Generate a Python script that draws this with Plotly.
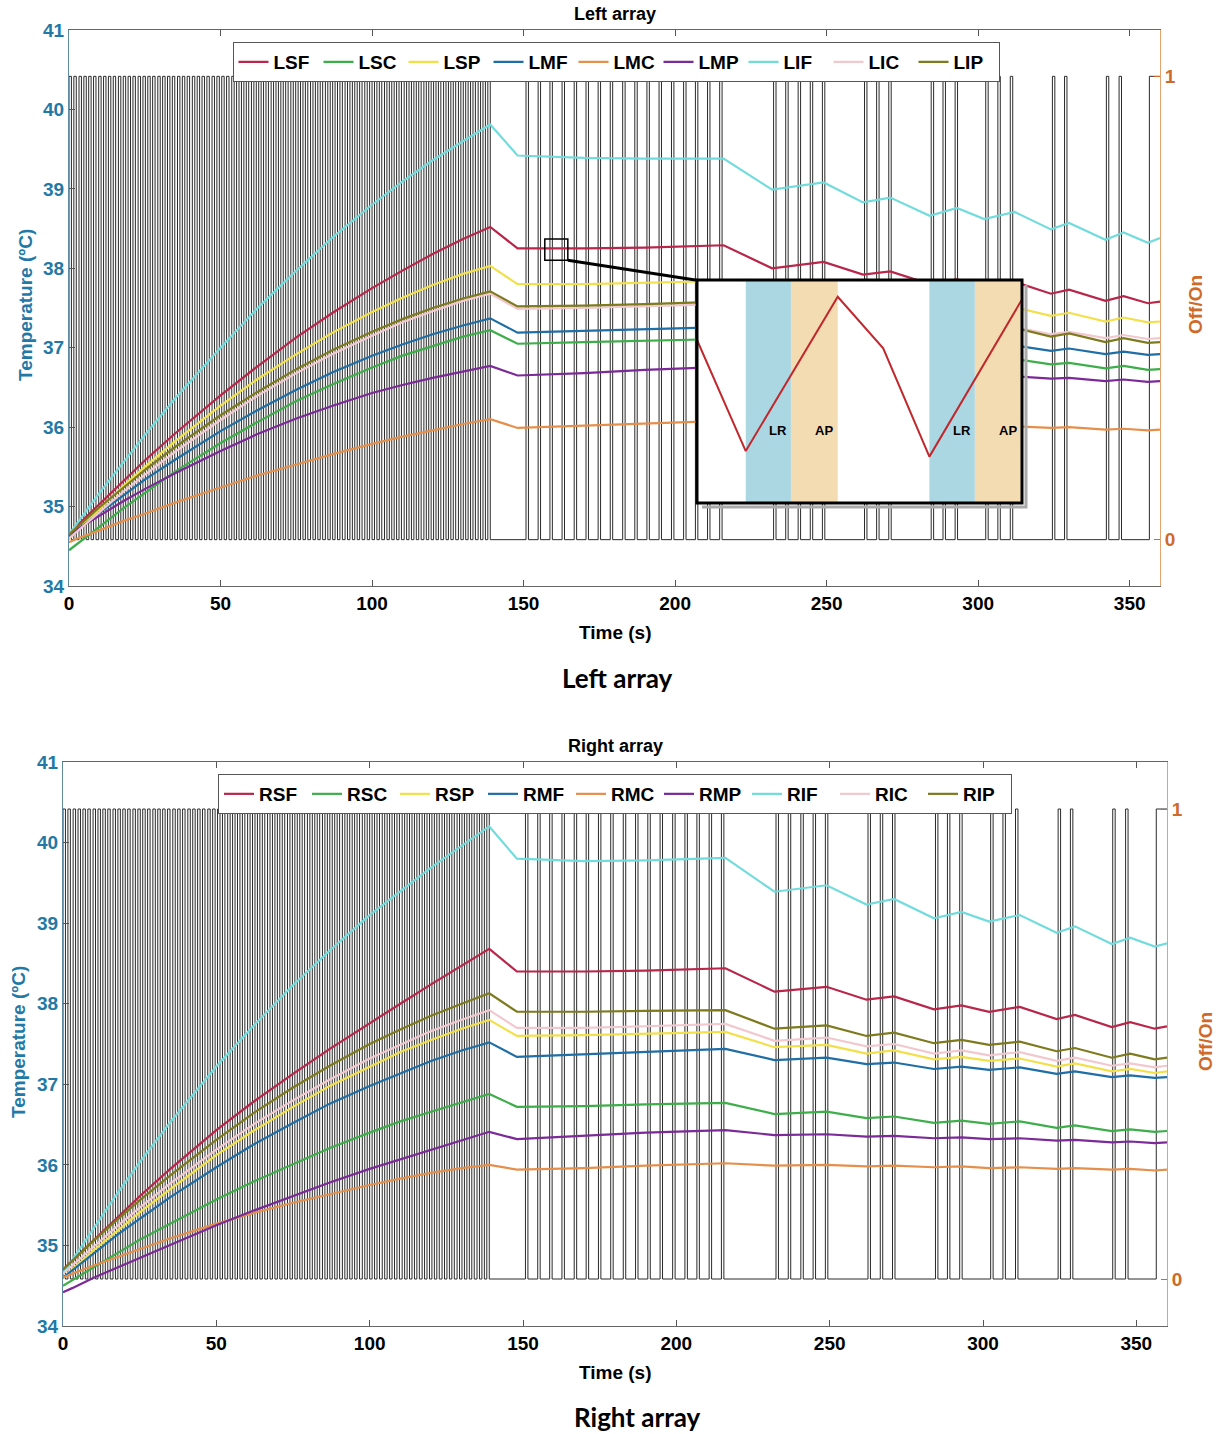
import plotly.graph_objects as go

# ---------------- data ----------------
TIME = [0, 3, 10, 18, 25, 35, 50, 62, 75, 87, 100, 110, 120, 130, 139,
        148, 170, 190, 216, 232, 249, 262, 271, 284, 293, 302, 312, 324, 330, 342, 348, 356, 360]

LSF = [34.65, 34.77, 35.03, 35.33, 35.58, 35.92, 36.40, 36.76, 37.13, 37.44, 37.75, 37.97, 38.18, 38.37, 38.52,
       38.25, 38.25, 38.26, 38.29, 38.00, 38.08, 37.92, 37.96, 37.80, 37.86, 37.77, 37.83, 37.68, 37.73, 37.59, 37.65, 37.56, 37.58]
LSC = [34.45, 34.54, 34.75, 34.98, 35.17, 35.44, 35.80, 36.06, 36.33, 36.54, 36.75, 36.90, 37.02, 37.14, 37.22,
       37.05, 37.07, 37.09, 37.11, 36.97, 37.00, 36.92, 36.93, 36.85, 36.88, 36.83, 36.86, 36.79, 36.81, 36.74, 36.77, 36.72, 36.73]
LSP = [34.60, 34.71, 34.97, 35.26, 35.50, 35.82, 36.27, 36.60, 36.92, 37.19, 37.45, 37.63, 37.79, 37.93, 38.03,
       37.80, 37.80, 37.82, 37.84, 37.65, 37.70, 37.58, 37.60, 37.49, 37.53, 37.47, 37.51, 37.40, 37.44, 37.33, 37.38, 37.32, 37.33]
LMF = [34.62, 34.71, 34.92, 35.14, 35.34, 35.59, 35.95, 36.21, 36.47, 36.69, 36.90, 37.04, 37.17, 37.28, 37.37,
       37.19, 37.21, 37.23, 37.26, 37.13, 37.16, 37.08, 37.10, 37.02, 37.05, 37.01, 37.03, 36.96, 36.99, 36.92, 36.95, 36.91, 36.92]
LMC = [34.55, 34.60, 34.70, 34.82, 34.91, 35.05, 35.24, 35.39, 35.53, 35.66, 35.79, 35.88, 35.96, 36.04, 36.10,
       35.99, 36.02, 36.05, 36.08, 36.04, 36.05, 36.02, 36.03, 36.01, 36.02, 36.00, 36.01, 35.99, 36.00, 35.97, 35.98, 35.96, 35.97]
LMP = [34.65, 34.72, 34.89, 35.07, 35.22, 35.42, 35.70, 35.91, 36.11, 36.27, 36.43, 36.53, 36.62, 36.70, 36.77,
       36.65, 36.68, 36.72, 36.76, 36.69, 36.71, 36.67, 36.68, 36.64, 36.65, 36.63, 36.64, 36.61, 36.62, 36.58, 36.60, 36.57, 36.58]
LIF = [34.65, 34.81, 35.17, 35.56, 35.90, 36.36, 37.00, 37.49, 37.97, 38.39, 38.80, 39.09, 39.36, 39.60, 39.81,
       39.42, 39.39, 39.38, 39.38, 38.99, 39.08, 38.83, 38.89, 38.66, 38.76, 38.62, 38.71, 38.49, 38.57, 38.36, 38.45, 38.32, 38.38]
LIC = [34.60, 34.70, 34.93, 35.19, 35.40, 35.69, 36.09, 36.39, 36.68, 36.92, 37.15, 37.32, 37.46, 37.59, 37.68,
       37.49, 37.50, 37.52, 37.55, 37.38, 37.42, 37.32, 37.34, 37.25, 37.28, 37.23, 37.26, 37.17, 37.20, 37.12, 37.16, 37.11, 37.12]
LIP = [34.65, 34.75, 34.99, 35.24, 35.46, 35.75, 36.15, 36.44, 36.73, 36.97, 37.20, 37.36, 37.50, 37.62, 37.71,
       37.52, 37.53, 37.55, 37.58, 37.39, 37.44, 37.32, 37.34, 37.23, 37.27, 37.21, 37.25, 37.14, 37.18, 37.07, 37.12, 37.06, 37.07]

RSF = [34.70, 34.81, 35.07, 35.36, 35.61, 35.95, 36.43, 36.78, 37.13, 37.44, 37.76, 38.00, 38.24, 38.47, 38.68,
       38.40, 38.40, 38.41, 38.44, 38.15, 38.21, 38.05, 38.09, 37.93, 37.98, 37.90, 37.96, 37.81, 37.86, 37.71, 37.77, 37.69, 37.72]
RSC = [34.50, 34.57, 34.73, 34.91, 35.07, 35.27, 35.57, 35.79, 36.01, 36.21, 36.40, 36.54, 36.66, 36.78, 36.88,
       36.72, 36.73, 36.75, 36.77, 36.63, 36.66, 36.58, 36.60, 36.52, 36.55, 36.51, 36.54, 36.46, 36.49, 36.42, 36.44, 36.41, 36.42]
RSP = [34.60, 34.70, 34.94, 35.19, 35.41, 35.70, 36.12, 36.42, 36.72, 36.98, 37.22, 37.40, 37.55, 37.69, 37.80,
       37.60, 37.61, 37.63, 37.65, 37.46, 37.49, 37.38, 37.42, 37.31, 37.34, 37.29, 37.32, 37.22, 37.26, 37.16, 37.19, 37.14, 37.16]
RMF = [34.60, 34.69, 34.90, 35.14, 35.33, 35.60, 35.97, 36.25, 36.52, 36.76, 36.98, 37.14, 37.29, 37.42, 37.52,
       37.34, 37.37, 37.40, 37.44, 37.30, 37.33, 37.25, 37.27, 37.19, 37.22, 37.18, 37.21, 37.13, 37.16, 37.09, 37.11, 37.08, 37.09]
RMC = [34.60, 34.65, 34.75, 34.86, 34.96, 35.09, 35.27, 35.40, 35.53, 35.64, 35.75, 35.83, 35.90, 35.96, 36.00,
       35.94, 35.96, 35.99, 36.02, 35.99, 36.00, 35.98, 35.99, 35.97, 35.98, 35.96, 35.97, 35.95, 35.96, 35.94, 35.95, 35.93, 35.94]
RMP = [34.42, 34.47, 34.60, 34.73, 34.85, 35.01, 35.25, 35.43, 35.61, 35.78, 35.95, 36.07, 36.19, 36.31, 36.41,
       36.32, 36.36, 36.40, 36.43, 36.37, 36.38, 36.35, 36.36, 36.33, 36.34, 36.32, 36.33, 36.30, 36.31, 36.28, 36.29, 36.27, 36.28]
RIF = [34.65, 34.82, 35.22, 35.66, 36.03, 36.53, 37.22, 37.72, 38.23, 38.66, 39.10, 39.40, 39.69, 39.96, 40.20,
       39.80, 39.77, 39.78, 39.81, 39.39, 39.47, 39.23, 39.30, 39.06, 39.14, 39.02, 39.10, 38.88, 38.96, 38.74, 38.82, 38.71, 38.75]
RIC = [34.65, 34.75, 34.99, 35.25, 35.47, 35.77, 36.19, 36.50, 36.80, 37.06, 37.32, 37.49, 37.66, 37.80, 37.92,
       37.70, 37.70, 37.72, 37.75, 37.54, 37.58, 37.47, 37.50, 37.38, 37.42, 37.36, 37.40, 37.29, 37.33, 37.23, 37.26, 37.21, 37.23]
RIP = [34.70, 34.81, 35.06, 35.33, 35.56, 35.87, 36.31, 36.64, 36.96, 37.23, 37.50, 37.68, 37.85, 38.00, 38.13,
       37.90, 37.90, 37.91, 37.92, 37.69, 37.73, 37.60, 37.64, 37.51, 37.55, 37.49, 37.53, 37.41, 37.45, 37.33, 37.38, 37.31, 37.33]

# heater on-times (s)
DENSE_ON = [0.0, 1.6, 3.3, 4.9, 6.5, 8.1, 9.8, 11.4, 13.0, 14.6, 16.3, 17.9, 19.5, 21.1, 22.8,
            24.4, 26.0, 27.6, 29.3, 30.9, 32.5, 34.1, 35.8, 37.4, 39.0, 40.7, 42.3, 43.9, 45.5,
            47.2, 48.8, 50.4, 52.0, 53.7, 55.3, 56.9, 58.5, 60.2, 61.8, 63.4, 65.0, 66.7, 68.3,
            69.9, 71.5, 73.2, 74.8, 76.4, 78.0, 79.7, 81.3, 82.9, 84.6, 86.2, 87.8, 89.4, 91.1,
            92.7, 94.3, 95.9, 97.6, 99.2, 100.8, 102.4, 104.1, 105.7, 107.3, 108.9, 110.6, 112.2,
            113.8, 115.4, 117.1, 118.7, 120.3, 121.9, 123.6, 125.2, 126.8, 128.5, 130.1, 131.7,
            133.3, 135.0, 136.6, 138.2]
SPARSE_ON = [150.8, 154.8, 158.7, 162.7, 166.7, 170.6, 174.6, 178.6, 182.7, 186.7, 190.7, 194.7,
             198.8, 202.8, 206.7, 210.7, 214.7, 232.5, 236.5, 240.6, 244.6, 248.6, 262.5, 266.5,
             270.5, 284.5, 288.4, 292.4, 302.5, 306.5, 310.6, 324.5, 328.5, 342.3, 346.5]
FINAL_ON = 356.5
END_TIME = 360
PULSE_WIDTH = 0.8

X_TICKS = [0, 50, 100, 150, 200, 250, 300, 350]
T_TICKS = [34, 35, 36, 37, 38, 39, 40, 41]
ONOFF_TICKS = [0, 1]

# inset schematic
INSET_X = [0, 1.5, 4.33, 5.73, 7.15, 10]
INSET_Y = [0.731, 0.233, 0.925, 0.694, 0.208, 0.913]
LR_BANDS = [(1.5, 2.89), (7.15, 8.55)]
AP_BANDS = [(2.89, 4.33), (8.55, 10)]
LABEL_POS = [("LR", 2.48), ("AP", 3.92), ("LR", 8.14), ("AP", 9.58)]
LABEL_Y = 0.323

# ---------------- styling ----------------
COLORS = {"SF": "#B8264A", "SC": "#3DAE4A", "SP": "#F2E04B", "MF": "#1F6EA6", "MC": "#E58F4C",
          "MP": "#7B2A98", "IF": "#72DCDC", "IC": "#F2C8CF", "IP": "#7E7A1E"}
TEAL = "#2279A6"
ORANGE = "#CF6A2A"
FONT = "Arial, Liberation Sans, sans-serif"
W, H = 1217, 1434

left_series = [("LSF", LSF, "SF"), ("LSC", LSC, "SC"), ("LSP", LSP, "SP"), ("LMF", LMF, "MF"),
               ("LMC", LMC, "MC"), ("LMP", LMP, "MP"), ("LIF", LIF, "IF"), ("LIC", LIC, "IC"),
               ("LIP", LIP, "IP")]
right_series = [("RSF", RSF, "SF"), ("RSC", RSC, "SC"), ("RSP", RSP, "SP"), ("RMF", RMF, "MF"),
                ("RMC", RMC, "MC"), ("RMP", RMP, "MP"), ("RIF", RIF, "IF"), ("RIC", RIC, "IC"),
                ("RIP", RIP, "IP")]


def square_wave():
    xs, ys = [0], [0]
    for t in DENSE_ON + SPARSE_ON:
        xs += [t, t, t + PULSE_WIDTH, t + PULSE_WIDTH]
        ys += [0, 1, 1, 0]
    xs += [FINAL_ON, FINAL_ON, END_TIME]
    ys += [0, 1, 1]
    return xs, ys


fig = go.Figure()
px_, py_ = square_wave()

# pulses
fig.add_trace(go.Scatter(x=px_, y=py_, xaxis="x", yaxis="y", mode="lines",
                         line=dict(color="#2a2a2a", width=1), showlegend=False, hoverinfo="skip"))
fig.add_trace(go.Scatter(x=px_, y=py_, xaxis="x2", yaxis="y3", mode="lines",
                         line=dict(color="#2a2a2a", width=1), showlegend=False, hoverinfo="skip"))

for name, vals, key in left_series:
    fig.add_trace(go.Scatter(x=TIME, y=vals, xaxis="x", yaxis="y2", mode="lines", name=name,
                             line=dict(color=COLORS[key], width=2.2), legend="legend"))
for name, vals, key in right_series:
    fig.add_trace(go.Scatter(x=TIME, y=vals, xaxis="x2", yaxis="y4", mode="lines", name=name,
                             line=dict(color=COLORS[key], width=2.2), legend="legend2"))

# inset
fig.add_trace(go.Scatter(x=INSET_X, y=INSET_Y, xaxis="x3", yaxis="y5", mode="lines",
                         line=dict(color="#C0282D", width=2), showlegend=False, hoverinfo="skip"))


def px2x(p):
    return p / W


def py2y(p):
    return 1 - p / H


top_dom = [py2y(586), py2y(30)]
bot_dom = [py2y(1326), py2y(762)]
top_xdom = [px2x(69), px2x(1160)]
bot_xdom = [px2x(63), px2x(1167)]

tickfont_black = dict(family=FONT, size=19, color="black", weight="bold")
tickfont_teal = dict(family=FONT, size=19, color=TEAL, weight="bold")
tickfont_orange = dict(family=FONT, size=19, color=ORANGE, weight="bold")


def xax(domain, anchor):
    return dict(domain=domain, anchor=anchor, range=[0, END_TIME], tickvals=X_TICKS, automargin=False,
                ticks="inside", ticklen=6, tickcolor="#555", showline=True, linecolor="#666",
                linewidth=1, mirror="ticks", showgrid=False, zeroline=False, tickfont=tickfont_black)


def onoff_ax(domain, anchor):
    return dict(domain=domain, anchor=anchor, side="right", range=[-0.1, 1.1], tickvals=ONOFF_TICKS,
                automargin=False, ticks="inside", ticklen=6, tickcolor=ORANGE, showline=True,
                linecolor="#E3A36E", linewidth=1, showgrid=False, zeroline=False, tickfont=tickfont_orange)


def temp_ax(overlay, anchor):
    return dict(overlaying=overlay, anchor=anchor, side="left", range=[34, 41], tickvals=T_TICKS,
                automargin=False, ticks="inside", ticklen=6, tickcolor="#555", showline=True,
                linecolor="#5f8aa3", linewidth=1, showgrid=False, zeroline=False, tickfont=tickfont_teal)


legend_common = dict(orientation="h", xanchor="center", yanchor="top", bgcolor="white",
                     bordercolor="#555", borderwidth=1, itemwidth=30, traceorder="normal",
                     entrywidthmode="pixels",
                     font=dict(family=FONT, size=19, color="black", weight="bold"))

fig.update_layout(
    template="none",
    width=W, height=H, autosize=False, margin=dict(l=0, r=0, t=0, b=0, pad=0),
    paper_bgcolor="white", plot_bgcolor="white",
    xaxis=xax(top_xdom, "y"),
    yaxis=onoff_ax(top_dom, "x"),
    yaxis2=temp_ax("y", "x"),
    xaxis2=xax(bot_xdom, "y3"),
    yaxis3=onoff_ax(bot_dom, "x2"),
    yaxis4=temp_ax("y3", "x2"),
    xaxis3=dict(domain=[px2x(697), px2x(1022)], anchor="y5", range=[0, 10], visible=False,
                automargin=False),
    yaxis5=dict(domain=[py2y(503), py2y(280)], anchor="x3", range=[0, 1], visible=False,
                automargin=False),
    legend=dict(x=px2x(616), y=py2y(42), entrywidth=40, **legend_common),
    legend2=dict(x=px2x(615), y=py2y(774), entrywidth=43, **legend_common),
    showlegend=True,
)

shapes = []
for a, b in LR_BANDS:
    shapes.append(dict(type="rect", xref="x3", yref="y5", x0=a, x1=b, y0=0, y1=1, layer="below",
                       fillcolor="#ABD7E3", line=dict(width=0)))
for a, b in AP_BANDS:
    shapes.append(dict(type="rect", xref="x3", yref="y5", x0=a, x1=b, y0=0, y1=1, layer="below",
                       fillcolor="#F3DCB2", line=dict(width=0)))
# inset shadow + frame
shapes.append(dict(type="path", xref="paper", yref="paper", layer="above",
                   path=f"M {px2x(1026)},{py2y(285)} L {px2x(1026)},{py2y(507)} L {px2x(702)},{py2y(507)}",
                   line=dict(color="#aaaaaa", width=3)))
shapes.append(dict(type="rect", xref="paper", yref="paper", layer="above",
                   x0=px2x(697), x1=px2x(1022), y0=py2y(503), y1=py2y(280),
                   line=dict(color="black", width=3)))
# zoom marker and connector (in data units of the top chart)
shapes.append(dict(type="rect", xref="x", yref="y2", x0=157.0, x1=164.6, y0=38.10, y1=38.37,
                   layer="above", line=dict(color="black", width=1.5)))
shapes.append(dict(type="line", xref="x", yref="y2", x0=164.6, y0=38.10, x1=207.2, y1=37.85,
                   layer="above", line=dict(color="black", width=3)))
fig.update_layout(shapes=shapes)

ann = []
for txt_, xv in LABEL_POS:
    ann.append(dict(text=txt_, xref="x3", yref="y5", x=xv, y=LABEL_Y, showarrow=False,
                    font=dict(family=FONT, size=13, color="black", weight="bold")))


def txt(text, x, y, size=19, color="black", angle=0, family=FONT):
    ann.append(dict(text=text, xref="paper", yref="paper", x=px2x(x), y=py2y(y), showarrow=False,
                    xanchor="center", yanchor="middle", textangle=angle,
                    font=dict(family=family, size=size, color=color, weight="bold")))


txt("Left array", 615, 14, size=18)
txt("Time (s)", 615, 632)
txt("Left array", 617, 678, size=26, family="Lato, Open Sans, sans-serif")
txt("Temperature (ºC)", 25, 305, color=TEAL, angle=-90)
txt("Off/On", 1195, 305, color=ORANGE, angle=-90)

txt("Right array", 615, 746, size=18)
txt("Time (s)", 615, 1372)
txt("Right array", 637, 1417, size=26, family="Lato, Open Sans, sans-serif")
txt("Temperature (ºC)", 18, 1042, color=TEAL, angle=-90)
txt("Off/On", 1205, 1042, color=ORANGE, angle=-90)

fig.update_layout(annotations=ann)

fig.write_html("out.html")
